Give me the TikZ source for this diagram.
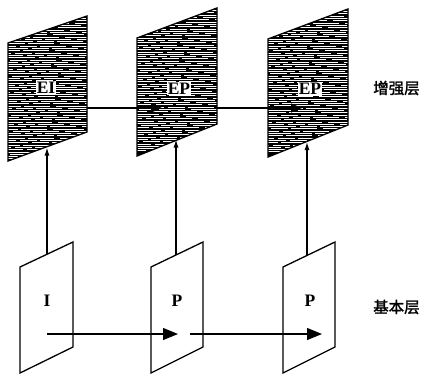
\documentclass[tikz,border=0pt]{standalone}
\usepackage{fontspec}
\setmainfont{Liberation Serif}
\newfontfamily\cjk{Noto Sans CJK SC}[AutoFakeBold=1.5]
\usetikzlibrary{arrows.meta}
\begin{document}
\begin{tikzpicture}[x=1pt,y=-1pt,
  panel/.style={line width=1.3pt, line join=miter},
  lab/.style={font=\fontsize{17.5}{18}\selectfont\bfseries, inner sep=1pt},
  cjklab/.style={font=\cjk\bfseries\fontsize{15.5}{16}\selectfont, inner sep=0pt, anchor=west},
  arr/.style={line width=1.2pt,-{Triangle[length=15pt,width=12pt]}},
  darr/.style={line width=1.2pt,-{Triangle[length=11pt,width=9pt]}},
  uparr/.style={line width=1.2pt,-{Latex[length=8pt,width=5pt]}}]
\useasboundingbox[fill=white] (0,0) rectangle (421,373);

% enhancement layer panels (dark, striped)
\foreach \xa/\ya/\xb/\yb/\n in {8/43/87/16/1, 137/38/217/8/2, 268/39/348/9/3}{
  \begin{scope}
    \clip (\xa,\ya) -- (\xb,\yb) -- (\xb,\yb+116) -- (\xa,\ya+118) -- cycle;
    \fill[black] (\xa-2,\yb-2) rectangle (\xb+2,\ya+121);
    \foreach \k in {0,...,62}{
      \pgfmathsetmacro\w{0.12+0.4*mod(\k*37+\n*11,10)/10}
      \pgfmathsetmacro\ph{mod(\k*29+\n*13,41)}
      \draw[white, line width=\w pt, dash pattern=on 31pt off 4pt on 17pt off 3pt on 26pt off 6pt, dash phase=\ph pt]
        (\xa-2,\yb+\k*2.3) -- (\xb+2,\yb+\k*2.3);
    }
  \end{scope}
  \draw[panel] (\xa,\ya) -- (\xb,\yb) -- (\xb,\yb+116) -- (\xa,\ya+118) -- cycle;
}

% base layer panels (white)
\foreach \xa/\xb/\n in {20/73/1, 151/203/2, 283/335/3}{
  \draw[panel, fill=white] (\xa,267) -- (\xb,242) -- (\xb,347) -- (\xa,373) -- cycle;
}

% labels
\node[lab, fill=white] (EI) at (46,88) {EI};
\node[lab, fill=white] (EP1) at (179,88.5) {EP};
\node[lab, fill=white] (EP2) at (310,89) {EP};
\node[lab] (I) at (47,300.5) {I};
\node[lab] (P1) at (177,300.5) {P};
\node[lab] (P2) at (310,300.5) {P};
\node[cjklab] (enh) at (373,88) {增强层};
\node[cjklab] (base) at (373,307) {基本层};

% connector end points
\coordinate (t1r) at (87,108);
\coordinate (t2in) at (162,108);
\coordinate (t2r) at (217,108);
\coordinate (t3in) at (302,108);
\coordinate (b1s) at (47,254);
\coordinate (b2s) at (176,255);
\coordinate (b3s) at (307,255.5);
\coordinate (t1b) at (47,147.5);
\coordinate (t2b) at (176,139.5);
\coordinate (t3b) at (307,142);
\coordinate (h1s) at (47,334);
\coordinate (h1e) at (178,334);
\coordinate (h2s) at (190,334);
\coordinate (h2e) at (322,334);

% connectors
\draw[darr] (t1r) -- (t2in);
\draw[darr] (t2r) -- (t3in);
\draw[uparr] (b1s) -- (t1b);
\draw[uparr] (b2s) -- (t2b);
\draw[uparr] (b3s) -- (t3b);
\draw[arr] (h1s) -- (h1e);
\draw[arr] (h2s) -- (h2e);
\end{tikzpicture}
\end{document}
